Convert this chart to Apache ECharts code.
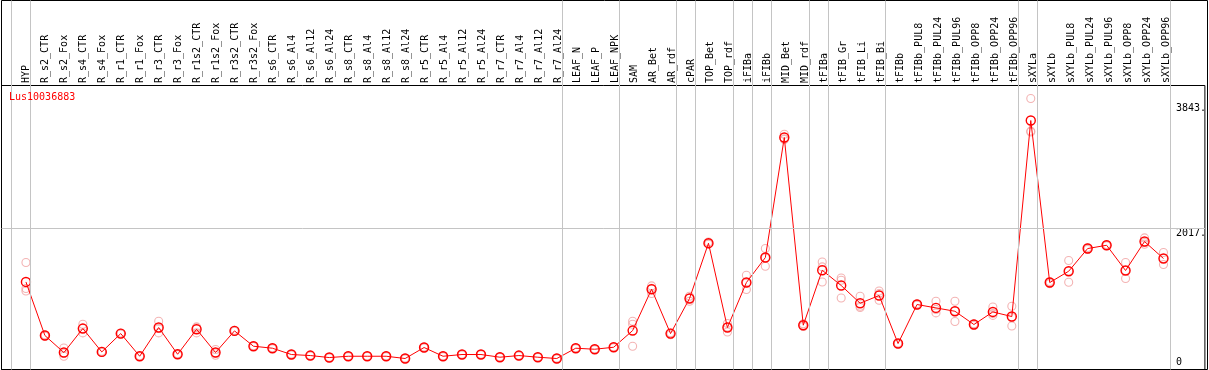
<!DOCTYPE html>
<html>
<head>
<meta charset="utf-8">
<script src="https://cdn.jsdelivr.net/npm/echarts@6/dist/echarts.min.js"></script>
<style>html,body{margin:0;padding:0;background:#fff}#c{width:1209px;height:370px}</style>
</head>
<body>
<div id="c"></div>
<script>
const categories = ['HYP','R_s2_CTR','R_s2_Fox','R_s4_CTR','R_s4_Fox','R_r1_CTR','R_r1_Fox','R_r3_CTR','R_r3_Fox','R_r1s2_CTR','R_r1s2_Fox','R_r3s2_CTR','R_r3s2_Fox','R_s6_CTR','R_s6_Al4','R_s6_Al12','R_s6_Al24','R_s8_CTR','R_s8_Al4','R_s8_Al12','R_s8_Al24','R_r5_CTR','R_r5_Al4','R_r5_Al12','R_r5_Al24','R_r7_CTR','R_r7_Al4','R_r7_Al12','R_r7_Al24','LEAF_N','LEAF_P','LEAF_NPK','SAM','AR_Bet','AR_rdf','cPAR','TOP_Bet','TOP_rdf','iFIBa','iFIBb','MID_Bet','MID_rdf','tFIBa','tFIB_Gr','tFIB_Li','tFIB_Bi','tFIBb','tFIBb_PUL8','tFIBb_PUL24','tFIBb_PUL96','tFIBb_OPP8','tFIBb_OPP24','tFIBb_OPP96','sXYLa','sXYLb','sXYLb_PUL8','sXYLb_PUL24','sXYLb_PUL96','sXYLb_OPP8','sXYLb_OPP24','sXYLb_OPP96'];
const means = [1239,459,211,560,220,487,157,575,186,550,211,526,303,274,182,167,138,157,157,157,124,284,157,182,182,143,167,143,124,274,259,288,531,1133,487,997,1803,575,1230,1594,3342,609,1409,1187,929,1041,342,910,861,812,619,802,735,3589,1230,1395,1725,1773,1405,1827,1580];
const rep1 = [1521,470,278,623,230,495,165,667,192,584,255,535,310,280,188,172,143,162,160,162,130,290,162,187,186,148,172,147,129,280,264,293,667,1181,500,1031,1820,633,1337,1725,3390,630,1530,1297,1031,1108,350,920,958,958,630,875,885,3909,1245,1551,1740,1785,1521,1880,1667];
const rep2 = [1143,455,157,497,215,480,150,497,180,497,172,520,298,268,176,162,133,152,154,152,118,278,152,177,178,138,162,139,119,268,254,283,303,1070,470,958,1790,511,1128,1468,3313,590,1239,1264,885,1070,335,900,788,662,605,779,598,3423,1215,1235,1712,1765,1288,1788,1492];
const rep3 = [1108,450,200,560,215,487,157,560,186,570,205,523,301,274,182,167,138,157,157,157,124,284,157,182,182,143,167,143,124,274,259,288,623,1148,491,1002,1799,581,1225,1589,3323,607,1458,1006,866,973,341,910,837,816,622,752,722,3435,1230,1399,1723,1769,1406,1813,1581];
const groupEnds = [-1,0,28,31,34,35,37,38,39,41,42,45,52,53,60];
const yTickValues = [0,2017,3843];
const yTickLabels = ['0','2017.','3843.'];
const geneName = 'Lus10036883';
const gridLineValue = 2017;

const FONT = 'DejaVu Sans Mono';
const XMIN = -24.5/19, XMAX = XMIN + 1206/19;
const YMIN = -36, YMAX = 4099;
const lbl = v => { const k = yTickValues.indexOf(v); return k >= 0 ? yTickLabels[k] : ''; };

const chart = echarts.init(document.getElementById('c'), null, {renderer:'canvas'});
const repSeries = [rep1, rep2, rep3].map(r => ({
  type:'scatter', xAxisIndex:0, yAxisIndex:0, z:2,
  symbol:'circle', symbolSize:8,
  itemStyle:{color:'rgba(0,0,0,0)', borderColor:'#f0a0a0', borderWidth:1.1},
  data: r.map((v,i)=>[i,v]), silent:true
}));
chart.setOption({
  animation:false,
  title:{text:geneName, left:9, top:92, padding:0, textStyle:{color:'#ff0000', fontSize:10, fontWeight:'normal', fontFamily:FONT}},
  grid:[
    {left:1.5, top:85.5, width:1206, height:284, show:true, borderColor:'#000', borderWidth:1, backgroundColor:'transparent'},
    {left:16.5, top:0, width:1159, height:85},
    {left:1.5, top:0.5, width:1206, height:369, show:true, borderColor:'#000', borderWidth:1, backgroundColor:'transparent'}
  ],
  xAxis:[
    {gridIndex:0, type:'value', min:XMIN, max:XMAX, show:false},
    {gridIndex:1, type:'category', data:categories, position:'bottom', boundaryGap:true,
     axisLine:{show:false}, axisTick:{show:false},
     axisLabel:{inside:true, rotate:90, interval:0, margin:2, fontFamily:FONT, fontSize:10, color:'#000'}},
    {gridIndex:2, type:'value', min:XMIN, max:XMAX, show:false}
  ],
  yAxis:[
    {gridIndex:0, type:'value', min:YMIN, max:YMAX, show:false},
    {gridIndex:0, type:'value', min:YMIN, max:YMAX, position:'right',
     axisLine:{show:false}, axisTick:{show:false}, splitLine:{show:false},
     axisLabel:{inside:true, customValues:[yTickValues[1], yTickValues[2]], formatter:lbl, verticalAlign:'top', align:'left', margin:29, fontFamily:FONT, fontSize:10, color:'#000'}},
    {gridIndex:0, type:'value', min:YMIN, max:YMAX, position:'right',
     axisLine:{show:false}, axisTick:{show:false}, splitLine:{show:false},
     axisLabel:{inside:true, customValues:[yTickValues[0]], formatter:lbl, verticalAlign:'bottom', align:'left', margin:29, fontFamily:FONT, fontSize:10, color:'#000'}},
    {gridIndex:1, type:'value', show:false},
    {gridIndex:2, type:'value', min:0, max:1, show:false}
  ],
  series:[
    {type:'line', xAxisIndex:2, yAxisIndex:4, data:[], z:1, silent:true,
     markLine:{silent:true, symbol:'none', label:{show:false},
       lineStyle:{color:'#c4c4c4', width:1, type:'solid'},
       data: groupEnds.map(i=>({xAxis: i + 4.5/19}))}},
    {type:'line', xAxisIndex:0, yAxisIndex:0, data:[], z:1, silent:true,
     markLine:{silent:true, symbol:'none', label:{show:false},
       lineStyle:{color:'#c4c4c4', width:1, type:'solid'},
       data:[{yAxis:gridLineValue}]}},
    ...repSeries,
    {type:'line', xAxisIndex:0, yAxisIndex:0, z:3,
     data: means.map((v,i)=>[i,v]),
     lineStyle:{color:'#ff0000', width:1},
     symbol:'circle', symbolSize:9,
     itemStyle:{color:'rgba(0,0,0,0)', borderColor:'#ff0000', borderWidth:1.4}}
  ]
});
</script>
</body>
</html>
